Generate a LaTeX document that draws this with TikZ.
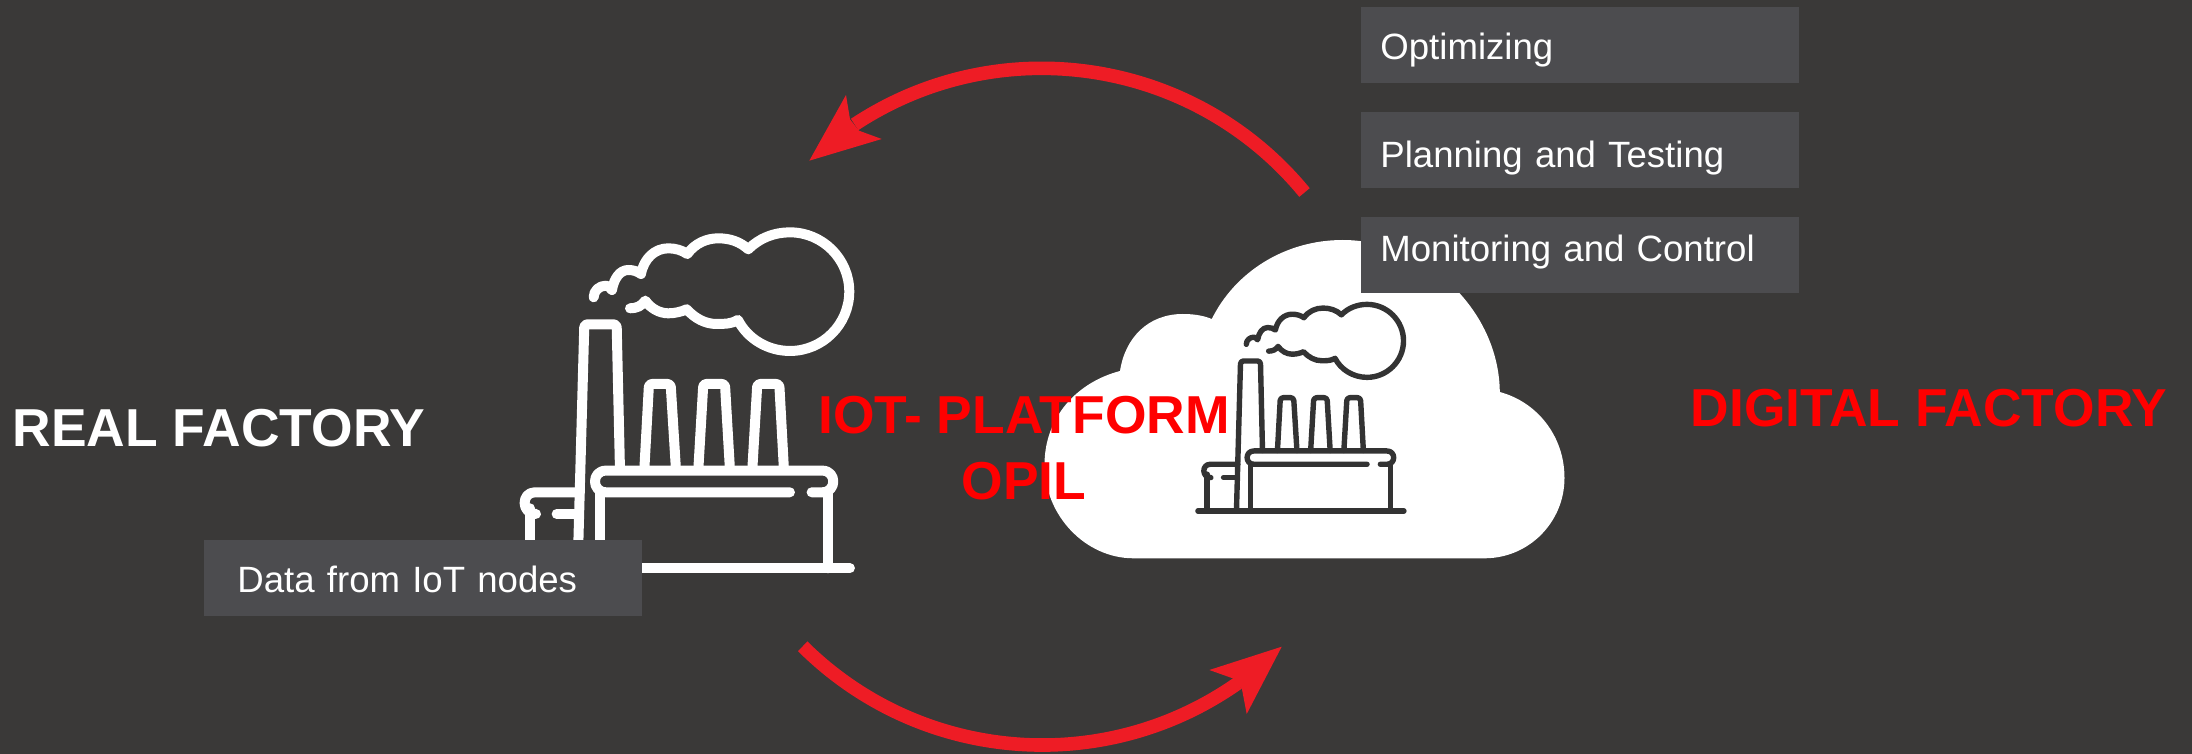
\documentclass[tikz,border=0pt]{standalone}
\usepackage{fontspec}
\setmainfont{Liberation Sans}
\definecolor{bgc}{HTML}{3A3938}
\definecolor{boxc}{HTML}{4C4C4F}
\definecolor{arrc}{HTML}{EE1C25}
\definecolor{darkc}{HTML}{333333}
\tikzset{
  x=0.5pt,y=-0.5pt,
  infobox/.style={fill=boxc,draw=none,inner xsep=9.5pt,inner ysep=0pt,minimum width=219pt,anchor=north west,text=white,font=\fontsize{18.3}{22}\selectfont,align=left,text width=200pt,text height=#1,text depth={38pt-#1}},
  bigtitle/.style={font=\fontsize{26.7}{33}\selectfont\bfseries,align=center,inner sep=0pt},
  arrowline/.style={draw=arrc,line width=6.8pt},
  arrowhead/.style={fill=arrc,draw=none}
}
\newcommand{\factoryicon}[5]{%
\begin{scope}[shift={(#1,#2)},x=#3*0.5pt,y=-#3*0.5pt,draw=#4,line width=#5,line cap=round,line join=round]
\draw (281,292) .. controls (281,272) and (298,257) .. (318,257)
  .. controls (325,258) and (330,262) .. (336,270)
  .. controls (342,235) and (360,210) .. (385,210)
  .. controls (400,210) and (412,214) .. (423,222)
  .. controls (432,175) and (465,145) .. (505,145)
  .. controls (525,145) and (545,150) .. (562,162)
  .. controls (585,130) and (620,115) .. (655,115)
  .. controls (690,115) and (720,125) .. (745,148)
  .. controls (778,114) and (823,97) .. (870,97)
  .. controls (968,97) and (1048,177) .. (1048,275)
  .. controls (1048,373) and (968,453) .. (870,453)
  .. controls (804,453) and (743,417) .. (714,360)
  .. controls (695,372) and (672,372) .. (650,372)
  .. controls (615,372) and (585,355) .. (560,328)
  .. controls (545,335) and (525,340) .. (505,340)
  .. controls (478,340) and (452,325) .. (436,302)
  .. controls (425,318) and (410,325) .. (390,325);
\draw[rounded corners=1.5pt] (233,1105) -- (253,373) -- (350,373) -- (360,810);
\draw[rounded corners=1.5pt] (433,810) -- (447,552) -- (512,552) -- (528,810);
\draw[rounded corners=1.5pt] (595,810) -- (610,552) -- (675,552) -- (690,810);
\draw[rounded corners=1.5pt] (757,810) -- (772,552) -- (838,552) -- (852,810);
\draw (870,877) -- (318,877) .. controls (274,877) and (274,812) .. (318,812) -- (967,812)
  .. controls (1011,812) and (1011,877) .. (967,877) -- (935,877);
\draw (300,877) -- (300,1105);
\draw (983,877) -- (983,1105);
\draw (45,1105) -- (1050,1105);
\draw (240,877) -- (105,877) .. controls (63,877) and (63,942) .. (108,942);
\draw (90,925) -- (90,1105);
\draw (170,942) -- (235,942);
\end{scope}}
\begin{document}
\begin{tikzpicture}
\useasboundingbox (0,0) rectangle (2192,754);
\fill[bgc] (0,0) rectangle (2192,754);
% cloud
\fill[white] (1133.6,558.3) -- (1484.5,558.3)
  .. controls (1529,558.3) and (1564.5,522) .. (1564.5,478)
  .. controls (1564.5,436) and (1537,402) .. (1499.8,392)
  .. controls (1499,310) and (1425,240) .. (1342.7,240)
  .. controls (1285,240) and (1235,272) .. (1211.8,319)
  .. controls (1202,315) and (1192,314) .. (1182.7,314)
  .. controls (1148,314) and (1125,338) .. (1120,371)
  .. controls (1078,382) and (1044.5,416) .. (1044.5,465)
  .. controls (1044.5,515) and (1085,558.3) .. (1133.6,558.3) -- cycle;
\factoryicon{1188.7}{284.5}{0.205}{darkc}{2.7pt}
\factoryicon{500}{200}{0.3333}{white}{5pt}
% arrows
\coordinate (a1s) at (1304.5,192.5);
\coordinate (a2s) at (802.7,646.3);
\draw[arrowline] (a1s) arc (-39.4:-123.4:340);
\fill[arrowhead] (809.3,160.7) -- (846,95) -- (850,119.3) -- (859,130.7) -- (881.7,139) -- cycle;
\draw[arrowline] (a2s) arc (134.8:54.9:340);
\fill[arrowhead] (1281.7,646.7) -- (1209.3,670) -- (1232.7,678.3) -- (1242,689.3) -- (1246.7,714) -- cycle;
% boxes
\node[infobox=26.3pt] (b1) at (1361,7) {Optimizing};
\node[infobox=27.5pt] (b2) at (1361,112) {Planning and Testing};
\node[infobox=22pt] (b3) at (1361,217) {Monitoring and Control};
\node[infobox=26.2pt] (b4) at (204,540) {\hspace*{7pt}Data from IoT nodes};
% titles
\node[bigtitle,text=white] (t1) at (219,428) {REAL FACTORY};
\node[bigtitle,text=red] (t2) at (1024,448) {IOT- PLATFORM\\OPIL};
\node[bigtitle,text=red] (t3) at (1929,408) {DIGITAL FACTORY};
\end{tikzpicture}
\end{document}
